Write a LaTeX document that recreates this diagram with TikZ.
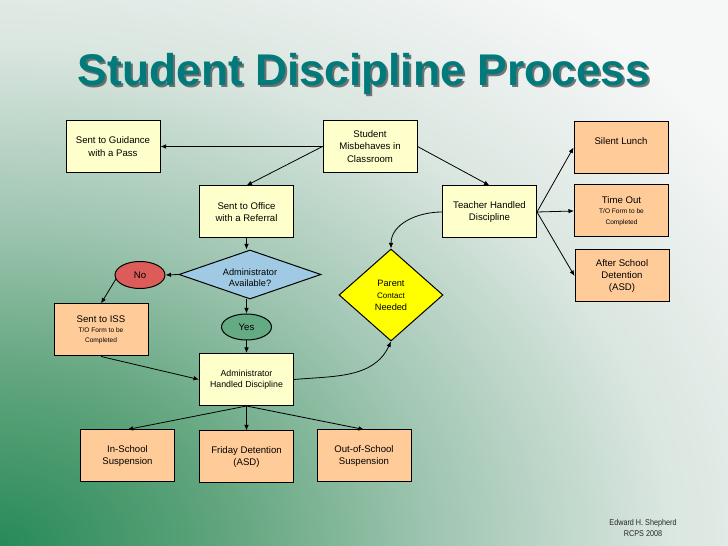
\documentclass[tikz,border=0pt]{standalone}
\usepackage{fontspec}
\setmainfont{Liberation Sans}
\newfontfamily\footfont[FakeStretch=0.86]{Liberation Sans}
\usetikzlibrary{shapes.geometric,arrows.meta}
\definecolor{boxyel}{RGB}{255,255,204}
\definecolor{boxorg}{RGB}{255,204,153}
\definecolor{diablue}{RGB}{160,202,228}
\definecolor{noRed}{RGB}{220,92,90}
\definecolor{yesGreen}{RGB}{100,170,130}
\definecolor{parentYel}{RGB}{255,255,0}
\definecolor{titleTeal}{RGB}{0,122,122}
\definecolor{bgA}{RGB}{40,138,88}
\definecolor{bgB}{RGB}{95,164,124}
\definecolor{bgC}{RGB}{160,198,178}
\definecolor{bgD}{RGB}{218,230,224}
\definecolor{bgE}{RGB}{246,247,247}
\pgfdeclareradialshading{bgshade}{\pgfpointorigin}{color(0bp)=(bgA); color(5bp)=(bgB); color(10bp)=(bgC); color(15.3bp)=(bgD); color(20.8bp)=(bgE); color(50bp)=(bgE)}
\tikzset{
  ybox/.style={draw=black, line width=1pt, fill=boxyel, minimum width=94pt, minimum height=52pt, inner sep=0pt, align=center, font=\fontsize{9.6}{12.3}\selectfont},
  obox/.style={ybox, fill=boxorg},
  formbox/.style={obox, font=\fontsize{9.6}{10.3}\selectfont},
  arr/.style={-{Latex[length=5.5pt,width=4.5pt]}, line width=0.8pt},
  oval/.style={ellipse, draw=black, line width=1pt, minimum width=50pt, minimum height=27pt, inner sep=0pt, font=\fontsize{9.6}{12}\selectfont},
  titlefont/.style={font=\fontsize{44.4}{48}\selectfont\bfseries},
}
\newcommand{\smallf}{\fontsize{6.6}{10.3}\selectfont}
\begin{document}
\begin{tikzpicture}[x=1pt,y=1pt]
\useasboundingbox (0,0) rectangle (728,546);
\begin{scope}
\clip (0,0) rectangle (728,546);
\shade[shading=bgshade] (0,0) ellipse [x radius=1092, y radius=819];
\end{scope}
% title
\node[anchor=base, titlefont, text=black!75, opacity=0.7] (titleshadow) at (366,458) {Student Discipline Process};
\node[anchor=base, titlefont, text=titleTeal] (title) at (364,460) {Student Discipline Process};
% top row
\node[ybox] (guid) at (113,399.5) {Sent to Guidance\\with a Pass};
\node[ybox] (stud) at (370,399.5) {Student\\Misbehaves in\\Classroom};
\node[obox] (lunch) at (621,398.5) {Silent Lunch\\\mbox{}};
% second row
\node[ybox] (office) at (246.5,334) {Sent to Office\\with a Referral};
\node[ybox] (teach) at (489.5,334) {Teacher Handled\\Discipline};
\node[formbox] (timeout) at (621.5,335) {Time Out\\\smallf T/O Form to be\\\smallf Completed};
\node[obox] (asd) at (622,270) {After School\\Detention\\(ASD)};
% decision
\node[diamond, draw=black, line width=1pt, fill=diablue, minimum width=142pt, minimum height=49pt, aspect=2.9, inner sep=0pt] (avail) at (250,271.5) {};
\node[align=center, inner sep=0pt, font=\fontsize{9.2}{11.4}\selectfont] (availtxt) at (250,268) {Administrator\\Available?};
\node[oval, fill=noRed] (no) at (140,271) {No};
\node[oval, fill=yesGreen, minimum height=26pt] (yes) at (246.5,219) {Yes};
\node[formbox] (iss) at (101,216) {Sent to ISS\\\smallf T/O Form to be\\\smallf Completed};
\node[ybox, font=\fontsize{8.8}{10.8}\selectfont] (admin) at (246.5,166.5) {Administrator\\Handled Discipline};
\node[diamond, draw=black, line width=1pt, fill=parentYel, minimum width=104pt, minimum height=92pt, aspect=1.13, inner sep=0pt, align=center, font=\fontsize{9.2}{12}\selectfont] (parent) at (391,251) {Parent\\{\fontsize{8}{12}\selectfont Contact}\\Needed};
% bottom row
\node[obox] (insch) at (127.5,90) {In-School\\Suspension};
\node[obox] (friday) at (246.5,89) {Friday Detention\\(ASD)};
\node[obox] (oos) at (364,90) {Out-of-School\\Suspension};
% footer
\node[align=center, font=\footfont\fontsize{8.4}{11}\selectfont, text=black!85] (author) at (643,18.5) {Edward H. Shepherd\\RCPS 2008};
% connectors
\draw[arr] (stud.west) -- (guid.east);
\draw[arr] (stud.west) -- (office.north);
\draw[arr] (stud.east) -- (teach.north);
\draw[arr] (teach.east) -- (lunch.west);
\draw[arr] (teach.east) -- (timeout.west);
\draw[arr] (teach.east) -- (asd.west);
\draw[arr] (teach.west) to[out=180, in=90] (parent.north);
\draw[arr] (office.south) -- (office.south |- avail.north);
\draw[arr] (avail.west) -- (no.east);
\draw[arr] (no.190) -- (iss.north);
\draw[arr] (yes.north |- avail.south) -- (yes.north);
\draw[arr] (yes.south) -- (admin.north);
\draw[arr] (iss.south) -- (admin.west);
\draw[arr] (admin.east) to[out=5, in=-115] (parent.south);
\draw[arr] (admin.south) -- (insch.north);
\draw[arr] (admin.south) -- (friday.north);
\draw[arr] (admin.south) -- (oos.north);
\end{tikzpicture}
\end{document}
